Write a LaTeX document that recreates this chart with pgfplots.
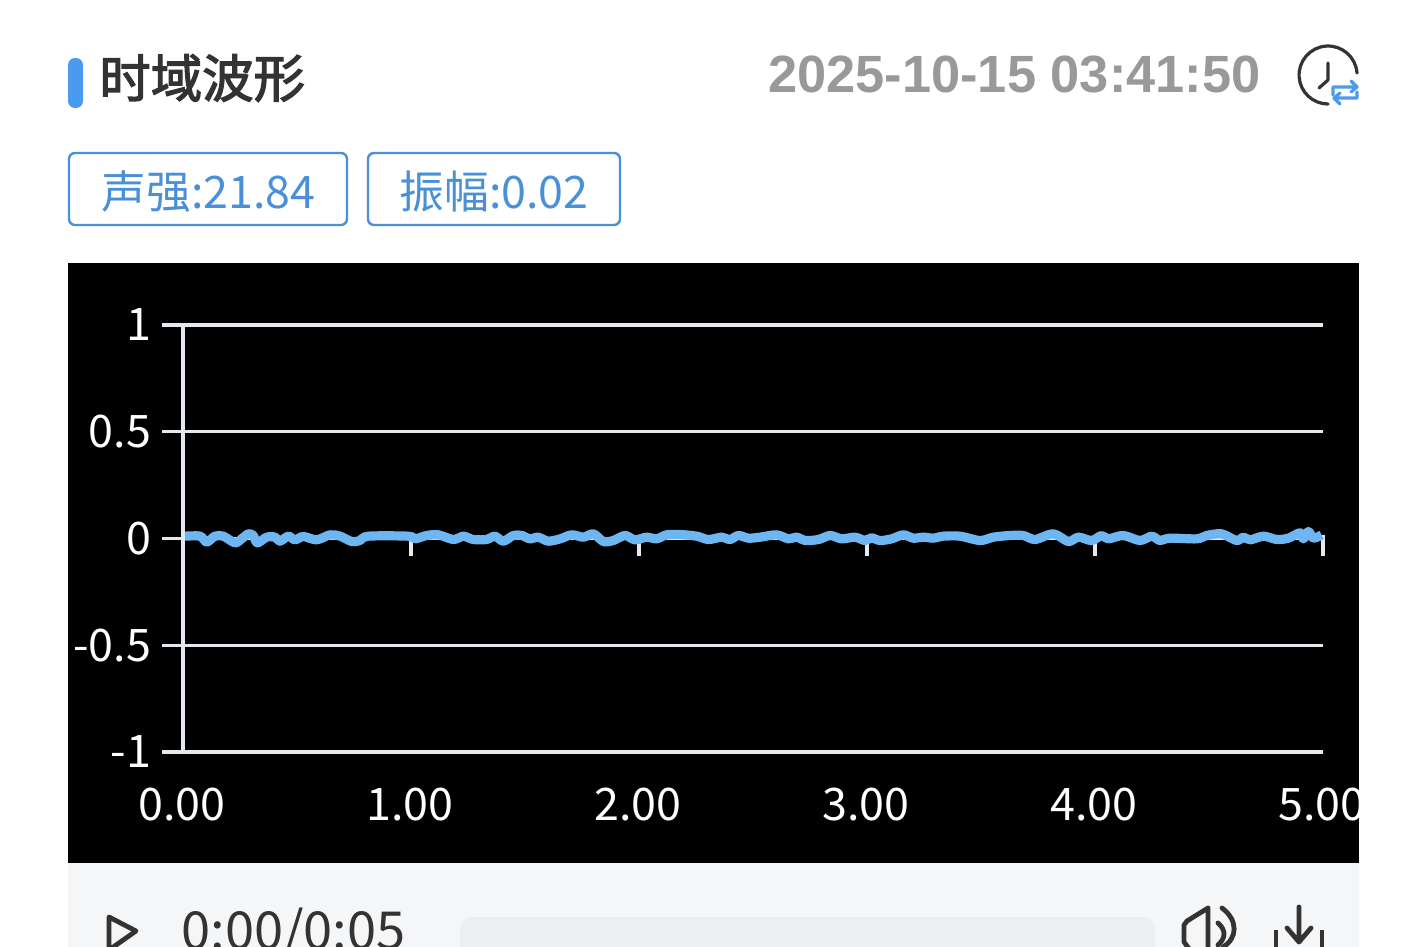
\documentclass[border=0pt]{standalone}
\usepackage{fontspec}
\usepackage{pgfplots}
\pgfplotsset{compat=1.18}
\setmainfont{Noto Sans CJK SC}
\newfontfamily\titlefont[FakeBold=2.5]{Noto Sans CJK SC}
\newfontfamily\datefont{Liberation Sans}
\definecolor{btn}{HTML}{4A90D9}
\definecolor{accent}{HTML}{4A9BF0}
\definecolor{curve}{HTML}{6DB6F2}
\definecolor{gridc}{HTML}{E4E9F0}
\definecolor{ink}{HTML}{333333}
\definecolor{barbg}{HTML}{F5F6F8}
\definecolor{track}{HTML}{EDEEEF}
\begin{document}
\begin{tikzpicture}[x=0.5pt,y=-0.5pt]
\path[use as bounding box] (0,0) rectangle (1426,947);
\fill[white] (0,0) rectangle (1426,947);
% header
\fill[accent, rounded corners=3.5pt] (68,58) rectangle (83,108);
\node[anchor=west,inner sep=0pt,font=\titlefont\fontsize{25.7}{26}\selectfont,text=ink] at (99,78) {时域波形};
\node[anchor=east,inner sep=0pt,font=\datefont\fontsize{26.2}{27}\selectfont\bfseries,text=black!40] at (1261,75) {2025-10-15 03:41:50};
% clock icon
\draw[ink,line width=1.6pt,line cap=round] (1357,73) arc[start angle=4,end angle=270,radius=14.5pt];
\draw[ink,line width=1.6pt,line cap=round,line join=round] (1328,63) -- (1328,80) -- (1319,88);
\draw[accent,line width=1.6pt,line cap=round,line join=round] (1333,95) -- (1333,87) -- (1357,87) (1351,81) -- (1357,87) -- (1351,92);
\draw[accent,line width=1.6pt,line cap=round,line join=round] (1357,92) -- (1357,98) -- (1334,98) (1340,93) -- (1334,98) -- (1340,104);
% badges
\draw[btn,line width=1.2pt,rounded corners=3pt] (69,153) rectangle (347,225);
\draw[btn,line width=1.2pt,rounded corners=3pt] (368,153) rectangle (620,225);
\node[inner sep=0pt,font=\fontsize{22.4}{23}\selectfont,text=btn] at (208.5,192) {声强:21.84};
\node[inner sep=0pt,font=\fontsize{22.4}{23}\selectfont,text=btn] at (494,192) {振幅:0.02};
% panels
\fill[black] (68,263) rectangle (1359,863);
\fill[barbg] (68,863) rectangle (1359,947);
\begin{scope}
\clip (68,263) rectangle (1359,863);
\begin{axis}[
  at={(91.5pt,-376pt)}, anchor=south west,
  scale only axis, width=570pt, height=213.5pt,
  xmin=0, xmax=5, ymin=-1, ymax=1,
  axis x line=bottom, axis y line=left,
  x axis line style={draw=none},
  y axis line style={gridc,line width=1.7pt,-},
  clip=false,
  xtick={0,1,2,3,4,5},
  xticklabels={0.00,1.00,2.00,3.00,4.00,5.00},
  ytick={-1,-0.5,0,0.5,1},
  yticklabels={-1,-0.5,0,0.5,1},
  ymajorgrids,
  grid style={gridc,line width=1.7pt},
  tick align=outside,
  major tick length=10.5pt,
  tick style={gridc,line width=1.7pt},
  xtick style={yshift=108.75pt},
  xticklabel style={font=\fontsize{22.4}{23}\selectfont,text=white,anchor=center,yshift=-16pt,xshift=-0.6pt},
  yticklabel style={font=\fontsize{22.4}{23}\selectfont,text=white,anchor=east,xshift=-2pt},
]
\addplot[curve,line width=4.6pt,smooth,tension=0.5,line join=round] coordinates {
(0.009,0.0109)(0.075,0.0109)(0.104,-0.0172)(0.140,0.0109)(0.177,0.0109)(0.228,-0.0203)(0.257,-0.0016)(0.287,0.0219)(0.308,0.0141)(0.326,-0.0203)(0.367,0.0062)(0.404,0.0062)(0.425,-0.0125)(0.462,0.0109)(0.491,-0.0062)(0.528,0.0094)(0.586,-0.0062)(0.645,0.0172)(0.689,0.0109)(0.740,-0.0141)(0.776,-0.0094)(0.813,0.0109)(0.988,0.0109)(1.018,-0.0016)(1.069,0.0141)(1.120,0.0172)(1.186,-0.0047)(1.230,0.0109)(1.273,-0.0047)(1.332,-0.0047)(1.368,0.0109)(1.405,-0.0125)(1.449,0.0141)(1.486,0.0141)(1.522,-0.0016)(1.558,0.0062)(1.602,-0.0125)(1.654,-0.0016)
(1.705,0.0172)(1.756,0.0062)(1.800,0.0219)(1.844,-0.0141)(1.887,-0.0094)(1.939,0.0141)(1.982,-0.0062)(2.034,0.0062)(2.077,-0.0016)(2.121,0.0172)(2.180,0.0187)(2.253,0.0109)(2.304,-0.0047)(2.363,0.0062)(2.399,-0.0047)(2.436,0.0141)(2.480,0.0016)(2.531,0.0062)(2.604,0.0172)(2.655,-0.0016)(2.692,0.0062)(2.728,-0.0094)(2.787,-0.0047)(2.838,0.0141)(2.889,-0.0016)(2.947,0.0062)(2.991,-0.0094)(3.020,0.0031)(3.057,-0.0094)(3.108,-0.0016)(3.159,0.0172)(3.203,0.0016)(3.247,0.0062)(3.291,0.0016)(3.335,0.0109)(3.408,0.0109)
(3.496,-0.0094)(3.554,0.0062)(3.627,0.0141)(3.686,0.0141)(3.737,-0.0047)(3.817,0.0219)(3.883,-0.0141)(3.927,0.0062)(3.985,-0.0094)(4.029,0.0141)(4.058,-0.0016)(4.124,0.0141)(4.197,-0.0094)(4.249,0.0109)(4.285,-0.0094)(4.329,0.0016)(4.446,-0.0016)(4.490,0.0141)(4.555,0.0219)(4.621,-0.0094)(4.651,0.0062)(4.681,-0.0062)(4.739,0.0109)(4.797,-0.0047)(4.848,0.0016)(4.899,0.0265)(4.914,-0.0016)(4.936,0.0328)(4.958,0.0016)(4.994,0.0172)
};
\end{axis}
\end{scope}
% player bar
\draw[ink,line width=2.4pt,line join=round] (109,917) -- (136,931) -- (109,950) -- cycle;
\node[anchor=north west,inner sep=0pt,font=\fontsize{26.2}{27}\selectfont,text=ink] at (181,907) {0:00/0:05};
\fill[track, rounded corners=6pt] (460,917) rectangle (1155,960);
\draw[ink,line width=2.4pt,line join=round,line cap=round] (1208,908) -- (1187,921) -- (1184,925) -- (1184,942) -- (1190,950) (1208,908) -- (1208,950);
\draw[ink,line width=2.4pt,line cap=round] (1222,908) .. controls (1238,920) and (1238,938) .. (1223,947);
\draw[ink,line width=2.4pt,line cap=round] (1218,923) .. controls (1226,930) and (1226,938) .. (1218,945);
\draw[ink,line width=2.4pt,line cap=round,line join=round] (1299,907) -- (1299,942) (1287,928) -- (1299,942) -- (1311,928);
\draw[ink,line width=2.4pt] (1276,930) -- (1276,950) (1322,930) -- (1322,950);
\end{tikzpicture}
\end{document}
